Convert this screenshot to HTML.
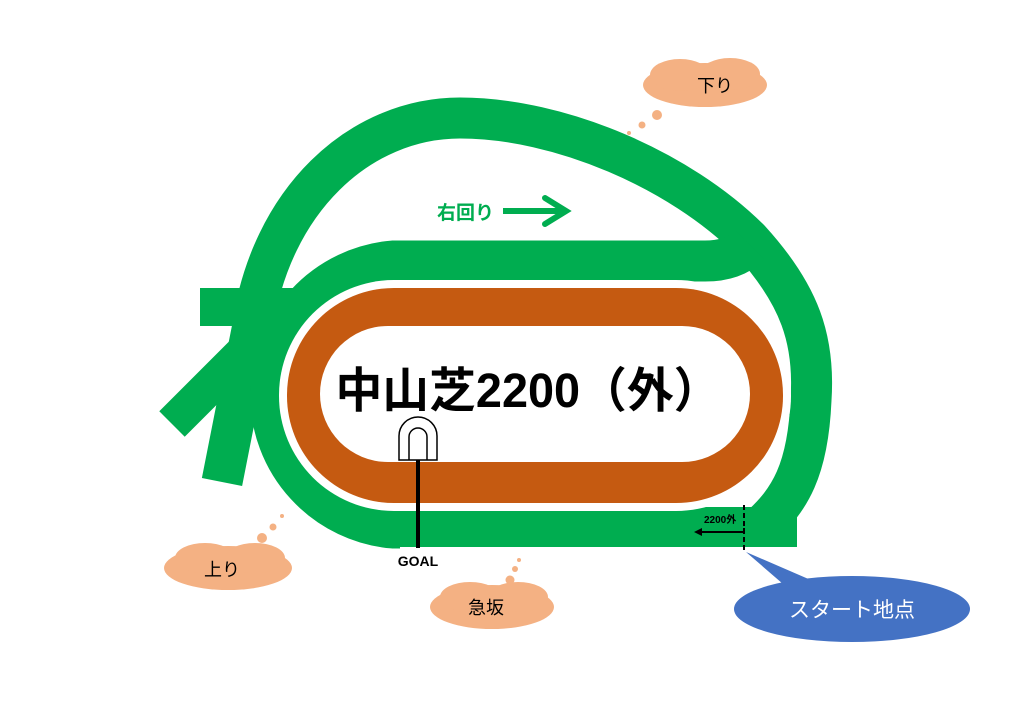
<!DOCTYPE html>
<html><head><meta charset="utf-8"><style>
html,body{margin:0;padding:0;background:#fff;}
svg{display:block;}
text{font-family:"Liberation Sans","Noto Sans CJK JP",sans-serif;}
</style></head><body>
<svg width="1024" height="709" viewBox="0 0 1024 709" xmlns="http://www.w3.org/2000/svg">
<rect width="1024" height="709" fill="#fff"/>
<g fill="none" stroke="#00ad50" stroke-width="41">
  <path d="M 222 482 L 252 330 C 270 200, 360 118, 460 118 C 560 118, 680 170, 750 240 C 800 295, 815 340, 811 400 C 808 470, 790 500, 760 527"/>
  <path d="M 400 528 L 393 528 A 134 134 0 0 1 393 261 L 705 261 C 725 261, 740 255, 750 245"/>
  <line x1="380" y1="527" x2="797" y2="527" stroke-width="40"/>
  <line x1="200" y1="307" x2="300" y2="307" stroke-width="38"/>
  <line x1="172" y1="424" x2="270" y2="326" stroke-width="36"/>
</g>
<rect x="279" y="280" width="512" height="231" rx="115" fill="#fff"/>
<rect x="287" y="288" width="496" height="215" rx="107" fill="#c55a11"/>
<rect x="320" y="326" width="430" height="136" rx="68" fill="#fff"/>
<text x="528" y="407" font-size="48" font-weight="bold" text-anchor="middle" fill="#000" textLength="385" lengthAdjust="spacingAndGlyphs">中山芝2200（外）</text>
<path d="M 399 460 L 399 436 A 19 19 0 0 1 437 436 L 437 460 Z" fill="#fff" stroke="#000" stroke-width="1.5"/>
<path d="M 409 460 L 409 437 A 9 9 0 0 1 427 437 L 427 460" fill="none" stroke="#000" stroke-width="1.5"/>
<line x1="418" y1="460" x2="418" y2="548" stroke="#000" stroke-width="4"/>
<text x="418" y="566" font-size="14" font-weight="bold" text-anchor="middle">GOAL</text>
<text x="437" y="219" font-size="19" font-weight="bold" fill="#00ad50">右回り</text>
<line x1="503" y1="211" x2="562" y2="211" stroke="#00ad50" stroke-width="6"/>
<path d="M 545 198 L 566 211 L 545 224" fill="none" stroke="#00ad50" stroke-width="6" stroke-linecap="round"/>
<line x1="744" y1="505" x2="744" y2="550" stroke="#000" stroke-width="2" stroke-dasharray="5,3"/>
<path d="M 744 528 L 744 532 L 700 532" fill="none" stroke="#000" stroke-width="2"/>
<path d="M 694 532 L 702 528 L 702 536 Z" fill="#000"/>
<text x="704" y="523" font-size="10" font-weight="bold">2200外</text>
<path d="M 746 552 L 820 584 L 790 590 Z" fill="#4472c4"/>
<ellipse cx="852" cy="609" rx="118" ry="33" fill="#4472c4"/>
<text x="852" y="617" font-size="21" fill="#fff" text-anchor="middle">スタート地点</text>
<g fill="#f4b183">
  <ellipse cx="705" cy="85" rx="62" ry="22"/><ellipse cx="680" cy="75" rx="30" ry="16"/><ellipse cx="730" cy="74" rx="30" ry="16"/>
  <circle cx="657" cy="115" r="5"/><circle cx="642" cy="125" r="3.5"/><circle cx="629" cy="133" r="2"/>
  <ellipse cx="228" cy="568" rx="64" ry="22"/><ellipse cx="205" cy="558" rx="30" ry="15"/><ellipse cx="255" cy="558" rx="30" ry="15"/>
  <circle cx="262" cy="538" r="5"/><circle cx="273" cy="527" r="3.5"/><circle cx="282" cy="516" r="2"/>
  <ellipse cx="492" cy="607" rx="62" ry="22"/><ellipse cx="470" cy="597" rx="30" ry="15"/><ellipse cx="518" cy="597" rx="30" ry="15"/>
  <circle cx="510" cy="580" r="4.5"/><circle cx="515" cy="569" r="3"/><circle cx="519" cy="560" r="2"/>
</g>
<text x="697" y="92" font-size="18">下り</text>
<text x="204" y="576" font-size="18">上り</text>
<text x="468" y="614" font-size="18">急坂</text>
</svg>
</body></html>
